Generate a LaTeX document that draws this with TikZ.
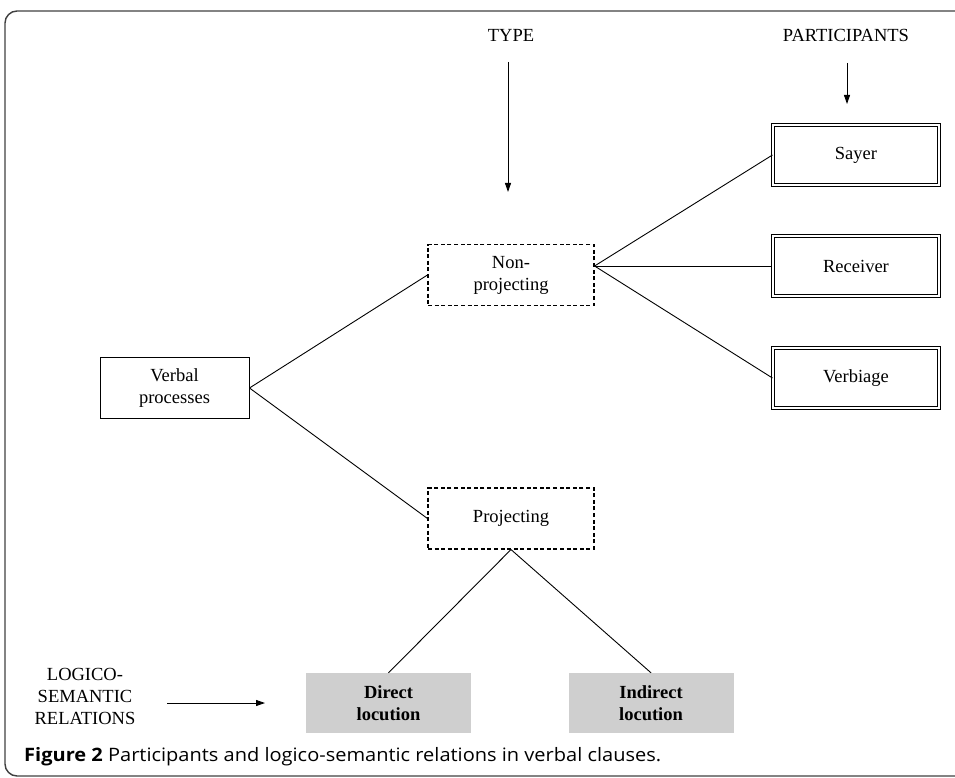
\documentclass[tikz,border=0pt]{standalone}
\usepackage{fontspec}
\usepackage{graphicx}
\setmainfont{Liberation Serif}
\newfontfamily\capfont{Open Sans}
\usetikzlibrary{arrows.meta,calc}
\begin{document}
\begin{tikzpicture}[x=1pt,y=-1pt,
  every node/.style={font=\fontsize{18.5}{22}\selectfont, align=center, inner sep=0pt},
  plainbox/.style={draw, line width=1pt, minimum width=149pt, minimum height=61pt},
  dashbox/.style={draw, line width=1.1pt, dash pattern=on 4pt off 2.6pt, minimum width=166pt, minimum height=61pt},
  dblbox/.style={draw, line width=1.1pt, double, double distance=2pt, minimum width=166pt, minimum height=60pt},
  graybox/.style={fill=black!19, minimum width=165pt, minimum height=60pt, font=\fontsize{18.5}{22}\selectfont\bfseries},
  link/.style={line width=0.9pt},
  pointer/.style={line width=0.9pt, -{Triangle[length=9pt,width=6pt]}}]
\useasboundingbox (0,0) rectangle (955,778);
\clip (0,0) rectangle (955,778);
\draw[line width=1.4pt, black!75, rounded corners=12pt] (5,11) rectangle (1000,776);

\node (type) at (511,35) {TYPE};
\node (part) at (846,35) {PARTICIPANTS};
\coordinate (typeA) at (508,62);
\coordinate (typeB) at (508,192);
\coordinate (partA) at (847,63);
\coordinate (partB) at (847,104);
\draw[pointer] (typeA) -- (typeB);
\draw[pointer] (partA) -- (partB);

\node[dashbox] (np) at (511,275) {Non-\\projecting};
\node[dashbox] (pj) at (511,518.5) {Projecting};
\node[plainbox] (vp) at (174.5,388) {Verbal\\processes};
\node[dblbox] (say) at (856,155) {Sayer};
\node[dblbox] (rec) at (856,266) {Receiver};
\node[dblbox] (verb) at (856,378) {Verbiage};
\node[graybox] (dl) at (388.5,703) {Direct\\locution};
\node[graybox] (il) at (651,703) {Indirect\\locution};
\node (lsr) at (85,696) {LOGICO-\\SEMANTIC\\RELATIONS};
\coordinate (lsrA) at (167,703);
\coordinate (lsrB) at (265,703);
\draw[pointer] (lsrA) -- (lsrB);

\coordinate (npout) at ([yshift=9pt]np.east);
\draw[link] (vp.east) -- (np.west);
\draw[link] (vp.east) -- (pj.west);
\draw[link] (npout) -- (say.west);
\draw[link] (npout) -- (rec.west);
\draw[link] (npout) -- (verb.west);
\draw[link] (pj.south) -- (dl.north);
\draw[link] (pj.south) -- (il.north);

\node[anchor=west] (cap) at (24,757) {\resizebox{637pt}{\height}{\capfont\fontsize{18.5}{22}\selectfont\textbf{Figure 2} Participants and logico-semantic relations in verbal clauses.}};
\end{tikzpicture}
\end{document}
